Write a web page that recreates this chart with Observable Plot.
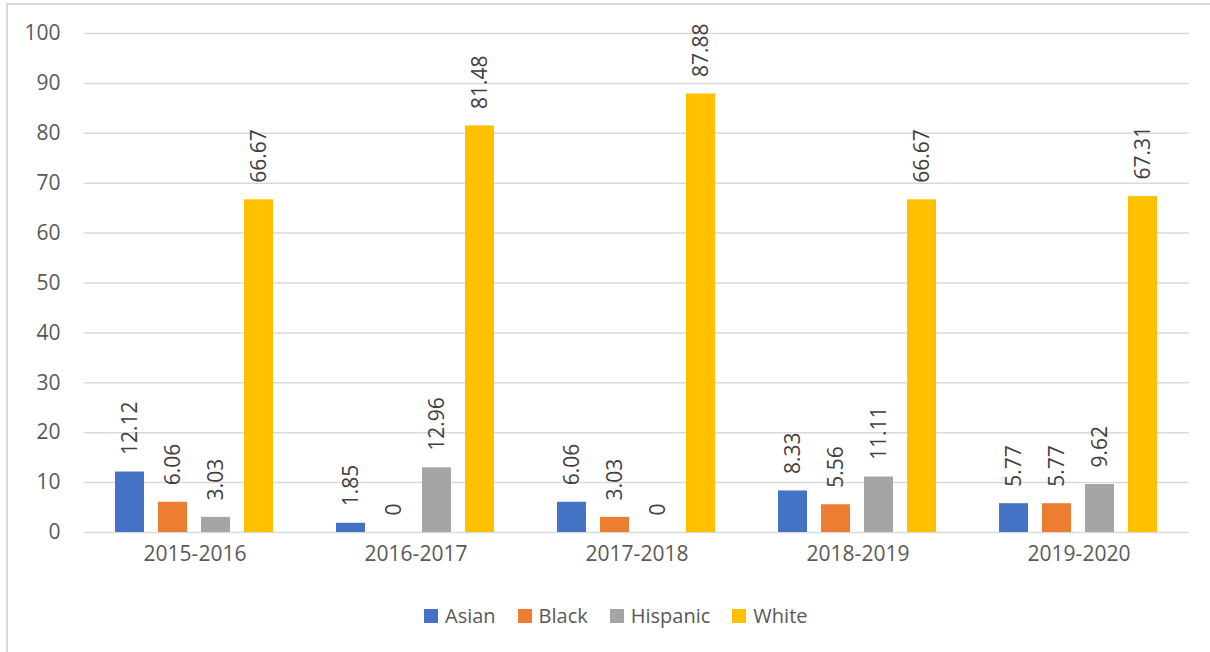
<!DOCTYPE html>
<html><head><meta charset="utf-8">
<script src="https://cdn.jsdelivr.net/npm/d3@7"></script>
<script src="https://cdn.jsdelivr.net/npm/@observablehq/plot@0.6"></script>
<style>
body{margin:0;background:#fff;font-family:"Open Sans",sans-serif;width:1210px;height:652px;overflow:hidden;position:relative;}
#frame{position:absolute;left:6px;top:3px;width:1230px;height:680px;border:2px solid #d9d9d9;box-sizing:border-box;}
#chart{position:absolute;left:0;top:0;}
#legend{position:absolute;top:602px;left:424px;display:flex;align-items:center;font-size:20px;color:#595959;white-space:nowrap;}
#legend .item{display:flex;align-items:center;margin-right:22px;}
#legend .sw{width:14px;height:14px;margin-right:7px;}
</style>
</head><body>
<div id="frame"></div>
<div id="chart"></div>
<div id="legend"></div>
<script>
const years = ["2015-2016","2016-2017","2017-2018","2018-2019","2019-2020"];
const groups = ["Asian","Black","Hispanic","White"];
const colors = ["#4472C4","#ED7D31","#A5A5A5","#FFC000"];
const asian    = [12.12, 1.85, 6.06, 8.33, 5.77];
const black    = [6.06, 0, 3.03, 5.56, 5.77];
const hispanic = [3.03, 12.96, 0, 11.11, 9.62];
const white    = [66.67, 81.48, 87.88, 66.67, 67.31];
const yTicks = [0,10,20,30,40,50,60,70,80,90,100];

const series = [asian, black, hispanic, white];
const data = [];
years.forEach((yr, i) => groups.forEach((g, j) => data.push({year: yr, group: g, value: series[j][i]})));

const plot = Plot.plot({
  width: 1210,
  height: 580,
  marginLeft: 83,
  marginRight: 21,
  marginTop: 33,
  marginBottom: 48,
  style: {fontFamily: '"Open Sans", sans-serif', fontSize: "21px", color: "#595959", background: "transparent"},
  fx: {domain: years, padding: 0, label: null, axis: "bottom", tickSize: 0, tickPadding: 14},
  x: {domain: groups, paddingInner: 0.32, paddingOuter: 0.70, axis: null},
  y: {domain: [0, 100], ticks: yTicks, label: null, tickSize: 0, tickPadding: 24},
  color: {domain: groups, range: colors},
  marks: [
    Plot.ruleY(yTicks, {stroke: "#d9d9d9", strokeWidth: 1.5}),
    Plot.barY(data, {fx: "year", x: "group", y: "value", fill: "group"}),
    Plot.text(data, {fx: "year", x: "group", y: "value", text: d => String(d.value), rotate: -90, textAnchor: "start", dy: -17, fill: "#404040", fontSize: 21})
  ]
});
document.getElementById("chart").appendChild(plot);

const leg = document.getElementById("legend");
groups.forEach((g, j) => {
  const it = document.createElement("div"); it.className = "item";
  const sw = document.createElement("div"); sw.className = "sw"; sw.style.background = colors[j];
  const tx = document.createElement("span"); tx.textContent = g;
  it.appendChild(sw); it.appendChild(tx); leg.appendChild(it);
});
</script>
</body></html>
